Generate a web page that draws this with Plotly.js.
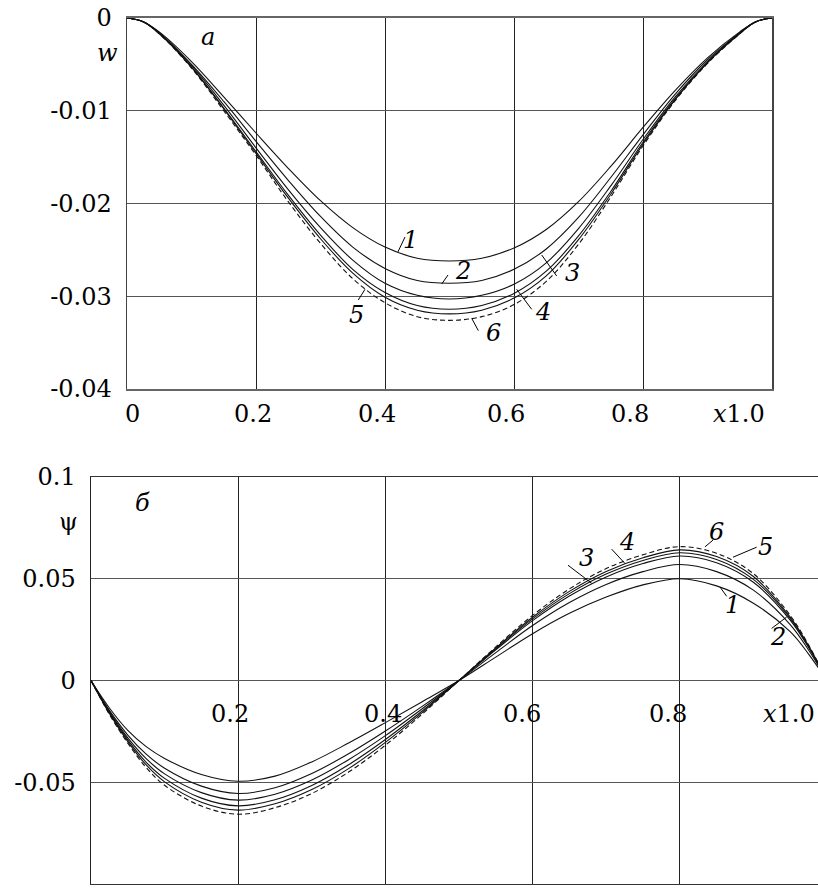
<!DOCTYPE html>
<html><head><meta charset="utf-8">
<script src="https://cdn.plot.ly/plotly-3.0.1.min.js"></script>
<style>body{margin:0;background:#fff}#chart{width:818px;height:890px}</style>
</head><body><div id="chart"></div><script>
// ---- panel a: deflection w(x) ----
const xW = [0,0.025,0.05,0.1,0.15,0.2,0.25,0.3,0.35,0.4,0.45,0.5,0.55,0.6,0.65,0.7,0.75,0.8,0.85,0.9,0.95,0.975,1];
const w1 = [0,-0.0004,-0.0015,-0.0047,-0.0085,-0.0124,-0.0162,-0.0197,-0.0226,-0.0247,-0.0259,-0.0262,-0.0259,-0.0248,-0.0228,-0.0198,-0.0160,-0.0118,-0.0078,-0.0043,-0.0015,-0.0004,0];
const w2 = [0,-0.0004,-0.0016,-0.0050,-0.0090,-0.0133,-0.0175,-0.0214,-0.0247,-0.0270,-0.0283,-0.0286,-0.0283,-0.0271,-0.0249,-0.0215,-0.0172,-0.0126,-0.0082,-0.0045,-0.0016,-0.0004,0];
const w3 = [0,-0.0004,-0.0016,-0.0051,-0.0094,-0.0140,-0.0185,-0.0226,-0.0261,-0.0286,-0.0299,-0.0303,-0.0299,-0.0287,-0.0264,-0.0227,-0.0181,-0.0131,-0.0085,-0.0047,-0.0016,-0.0004,0];
const w4 = [0,-0.0004,-0.0016,-0.0053,-0.0097,-0.0144,-0.0191,-0.0234,-0.0271,-0.0296,-0.0310,-0.0314,-0.0310,-0.0297,-0.0273,-0.0235,-0.0187,-0.0134,-0.0087,-0.0048,-0.0016,-0.0004,0];
const w5 = [0,-0.0004,-0.0017,-0.0053,-0.0098,-0.0146,-0.0194,-0.0238,-0.0275,-0.0301,-0.0315,-0.0319,-0.0315,-0.0302,-0.0278,-0.0239,-0.0190,-0.0136,-0.0088,-0.0048,-0.0017,-0.0004,0];
const w6 = [0,-0.0004,-0.0017,-0.0054,-0.0100,-0.0148,-0.0198,-0.0243,-0.0281,-0.0307,-0.0322,-0.0326,-0.0322,-0.0309,-0.0284,-0.0244,-0.0193,-0.0138,-0.0089,-0.0049,-0.0017,-0.0004,0];

// ---- panel б: rotation psi(x) ----
const xPsi = [0,0.025,0.05,0.075,0.1,0.15,0.2,0.25,0.3,0.35,0.4,0.45,0.5,0.55,0.6,0.65,0.7,0.75,0.8,0.85,0.9,0.95,0.975,1];
const psi1 = [0,-0.0135,-0.0245,-0.0325,-0.0383,-0.0462,-0.0495,-0.0470,-0.0400,-0.0307,-0.0207,-0.0104,0,0.0115,0.0230,0.0330,0.0410,0.0470,0.0500,0.0465,0.0380,0.0240,0.0130,0];
const psi2 = [0,-0.0147,-0.0268,-0.0362,-0.0431,-0.0519,-0.0555,-0.0527,-0.0457,-0.0360,-0.0248,-0.0127,0,0.0137,0.0270,0.0383,0.0472,0.0535,0.0570,0.0535,0.0444,0.0275,0.0150,0];
const psi3 = [0,-0.0153,-0.0282,-0.0384,-0.0459,-0.0551,-0.0588,-0.0559,-0.0489,-0.0389,-0.0271,-0.0139,0,0.0151,0.0294,0.0415,0.0509,0.0575,0.0612,0.0579,0.0483,0.0297,0.0162,0];
const psi4 = [0,-0.0158,-0.0292,-0.0402,-0.0481,-0.0578,-0.0616,-0.0586,-0.0516,-0.0414,-0.0290,-0.0150,0,0.0156,0.0303,0.0427,0.0523,0.0590,0.0628,0.0595,0.0497,0.0305,0.0166,0];
const psi5 = [0,-0.0162,-0.0300,-0.0415,-0.0498,-0.0598,-0.0637,-0.0606,-0.0536,-0.0433,-0.0304,-0.0158,0,0.0160,0.0311,0.0438,0.0536,0.0603,0.0642,0.0609,0.0511,0.0312,0.0171,0];
const psi6 = [0,-0.0167,-0.0308,-0.0428,-0.0515,-0.0617,-0.0657,-0.0625,-0.0555,-0.0450,-0.0318,-0.0165,0,0.0165,0.0320,0.0450,0.0550,0.0618,0.0658,0.0625,0.0525,0.0320,0.0175,0];

// ---- ticks and labels ----
const wTickVals = [0,-0.01,-0.02,-0.03,-0.04];
const wTickText = ['0','-0.01','-0.02','-0.03','-0.04'];
const psiTickVals = [0.1,0.05,0,-0.05,-0.1];
const psiTickText = ['0.1','0.05','0','-0.05','-0.1'];
const xGridVals = [0.2,0.4,0.6,0.8];
const xTopLabels = ['0','0.2','0.4','0.6','0.8'];
const xBotLabels = ['0.2','0.4','0.6','0.8'];
const curveNames = ['1','2','3','4','5','6'];

const FONT = 'DejaVu Serif';
const FS = 24;
const wSeries = [w1,w2,w3,w4,w5,w6];
const psiSeries = [psi1,psi2,psi3,psi4,psi5,psi6];

const traces = [];
wSeries.forEach((s,i)=>traces.push({x:xW,y:s,xaxis:'x',yaxis:'y',mode:'lines',name:curveNames[i],
  line:{color:'#111',width:1.1,shape:'spline',smoothing:1,dash:i===5?'5px,3px':'solid'},hoverinfo:'skip'}));
psiSeries.forEach((s,i)=>traces.push({x:xPsi,y:s,xaxis:'x2',yaxis:'y2',mode:'lines',name:curveNames[i],
  line:{color:'#111',width:1.1,shape:'spline',smoothing:1,dash:i===5?'5px,3px':'solid'},hoverinfo:'skip'}));

const ann = [];
function txt(xref,yref,x,y,t,opt){ann.push(Object.assign({xref:xref,yref:yref,x:x,y:y,text:t,showarrow:false,
  xanchor:'center',yanchor:'middle',font:{family:FONT,size:FS,color:'#000'}},opt||{}));}

// top x labels (paper coordinates, below the panel)
const topLabX = [0.16259,0.30929,0.46088,0.61858,0.77017];
xTopLabels.forEach((t,i)=>txt('paper','paper',topLabX[i],0.53483,t));
txt('paper','paper',0.93765,0.53483,'<i>x</i>1.0',{xanchor:'right'});
txt('paper','paper',0.13081,0.94045,'<i>w</i>');
txt('x','y',0.1256,-0.0021,'<i>а</i>');

// bottom x labels (inside panel, under the zero line)
const botLabX = [0.189,0.397,0.5856,0.784];
xBotLabels.forEach((t,i)=>txt('x2','y2',botLabX[i],-0.0163,t));
txt('x2','y2',0.9864,-0.0163,'<i>x</i>1.0',{xanchor:'right'});
txt('paper','paper',0.08313,0.41348,'ψ');
txt('x2','y2',0.0693,0.0872,'<i>б</i>');

// curve number labels
const topNum = [[0.4403,-0.0239],[0.5209,-0.0273],[0.691,-0.0275],[0.645,-0.0317],[0.3561,-0.0320],[0.5679,-0.0340]];
topNum.forEach((p,i)=>txt('x','y',p[0],p[1],'<i>'+curveNames[i]+'</i>'));
const botNum = [[0.8723,0.0370],[0.9334,0.0213],[0.6735,0.0600],[0.7278,0.0681],[0.917,0.0655],[0.8501,0.0731]];
botNum.forEach((p,i)=>txt('x2','y2',p[0],p[1],'<i>'+curveNames[i]+'</i>'));

// leader lines
const shapes = [];
function seg(xr,yr,x0,y0,x1,y1){shapes.push({type:'line',xref:xr,yref:yr,x0:x0,y0:y0,x1:x1,y1:y1,line:{color:'#000',width:1}});}
seg('x','y',0.420,-0.02523,0.431,-0.02361);
seg('x','y',0.4879,-0.02868,0.4977,-0.02771);
seg('x','y',0.6429,-0.02555,0.6662,-0.02782);
seg('x','y',0.6042,-0.02925,0.6274,-0.03141);
seg('x','y',0.3586,-0.0304,0.369,-0.02925);
seg('x','y',0.5344,-0.03238,0.5447,-0.03371);
seg('x2','y2',0.8546,0.04596,0.8637,0.04138);
seg('x2','y2',0.9249,0.02562,0.9452,0.03118);
seg('x2','y2',0.6481,0.05665,0.6803,0.04778);
seg('x2','y2',0.7075,0.06453,0.7255,0.05749);
seg('x2','y2',0.8723,0.06059,0.9045,0.06552);
seg('x2','y2',0.8342,0.06567,0.8451,0.06897);

const tickFont = {family:FONT,size:FS,color:'#000'};
const layout = {
  width:818,height:890,margin:{l:0,r:0,t:0,b:0},paper_bgcolor:'#fff',plot_bgcolor:'#fff',showlegend:false,
  font:{family:FONT,size:FS,color:'#000'},
  xaxis:{domain:[0.15526,0.94377],range:[0,1],tickvals:xGridVals,showticklabels:false,ticks:'',
    showgrid:true,gridcolor:'#222',gridwidth:1,zeroline:false,showline:true,linecolor:'#666',linewidth:1.5,mirror:true,anchor:'y'},
  yaxis:{domain:[0.56292,0.97978],range:[-0.04,0],tickvals:wTickVals,ticktext:wTickText,tickfont:tickFont,ticks:'',
    ticklabelstandoff:9,showgrid:true,gridcolor:'#555',gridwidth:1,zeroline:false,showline:true,linecolor:'#444',linewidth:1.5,mirror:true,anchor:'x'},
  xaxis2:{domain:[0.11125,1],range:[0,0.9878],tickvals:xGridVals,showticklabels:false,ticks:'',
    showgrid:true,gridcolor:'#222',gridwidth:1,zeroline:false,showline:true,linecolor:'#333',linewidth:1.5,mirror:true,anchor:'y2'},
  yaxis2:{domain:[0.006742,0.46404],range:[-0.1,0.1],tickvals:psiTickVals,ticktext:psiTickText,tickfont:tickFont,ticks:'',
    ticklabelstandoff:9,showgrid:true,gridcolor:'#555',gridwidth:1,zeroline:false,showline:true,linecolor:'#222',linewidth:1.5,mirror:false,anchor:'x2'},
  annotations:ann,shapes:shapes
};
Plotly.newPlot('chart',traces,layout,{staticPlot:true,displayModeBar:false});
</script></body></html>
